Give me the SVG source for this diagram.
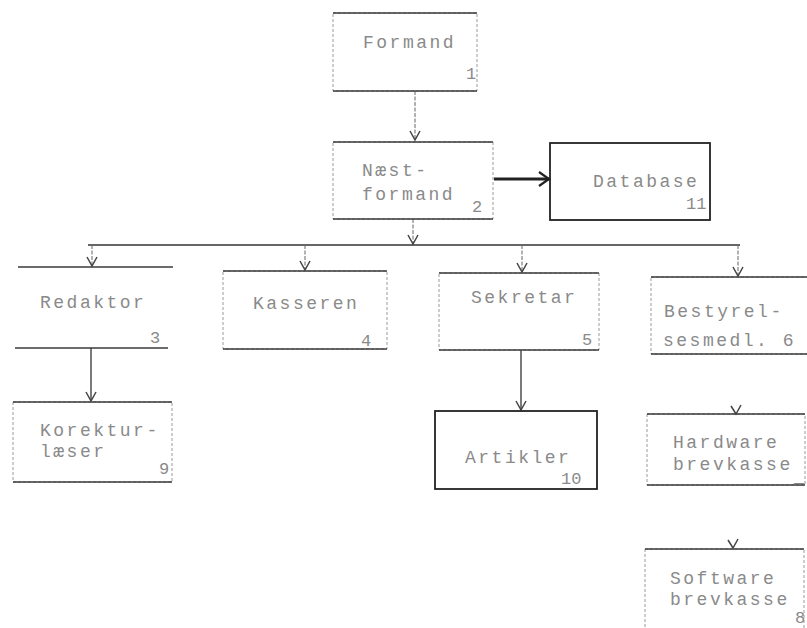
<svg xmlns="http://www.w3.org/2000/svg" width="807" height="628" viewBox="0 0 807 628">
<defs>
<style>
.bg{fill:#ffffff}
.side{fill:none;stroke:#9a9a9a;stroke-width:1;stroke-dasharray:3 2}
.edge{fill:none;stroke:#3a3a3a;stroke-width:1.3}
.edgeb{fill:none;stroke:#222;stroke-width:1.8}
.t{font-family:"Liberation Mono","DejaVu Sans Mono",monospace;font-size:18px;letter-spacing:2.5px;fill:#8a8a8a}
.n{font-family:"Liberation Mono","DejaVu Sans Mono",monospace;font-size:17px;fill:#8a8a8a}
.c{fill:none;stroke:#666;stroke-width:1;stroke-dasharray:4 1.5}
.cs{fill:none;stroke:#333;stroke-width:1.3}
.thick{fill:none;stroke:#222;stroke-width:3}
.v{fill:none;stroke:#444;stroke-width:1.5}
</style>
<marker id="ah" markerWidth="14" markerHeight="14" refX="0" refY="0" viewBox="-12 -7 14 14" orient="auto" markerUnits="userSpaceOnUse">
<path d="M-9,-5 L0,0 L-9,5" class="v"/>
</marker>
<marker id="ahb" markerWidth="16" markerHeight="18" refX="0" refY="0" viewBox="-13 -9 15 18" orient="auto" markerUnits="userSpaceOnUse">
<path d="M-10,-7 L0,0 L-10,7" fill="none" stroke="#222" stroke-width="2.2"/>
</marker>
</defs>
<rect class="bg" x="0" y="0" width="807" height="628"/>

<g id="connectors">
<line class="c" x1="415" y1="91" x2="415" y2="140" marker-end="url(#ah)"/>
<line class="thick" x1="494" y1="179" x2="549" y2="179" marker-end="url(#ahb)"/>
<line class="c" x1="413" y1="219" x2="413" y2="244" marker-end="url(#ah)"/>
<line class="cs" x1="88" y1="245" x2="740" y2="245"/>
<line class="c" x1="92" y1="245" x2="92" y2="266" marker-end="url(#ah)"/>
<line class="c" x1="305" y1="245" x2="305" y2="270" marker-end="url(#ah)"/>
<line class="c" x1="522" y1="245" x2="522" y2="272" marker-end="url(#ah)"/>
<line class="c" x1="738" y1="245" x2="738" y2="276" marker-end="url(#ah)"/>
<line class="cs" x1="91" y1="348" x2="91" y2="401" marker-end="url(#ah)"/>
<line class="cs" x1="521" y1="350" x2="521" y2="410" marker-end="url(#ah)"/>
<path class="v" d="M731,406 L736,414 L741,405"/>
<path class="v" d="M728,540 L733,548 L738,539"/>
</g>

<g id="node1">
<rect class="side" x="333" y="13" width="144" height="78"/>
<line class="edge" x1="333" y1="13" x2="477" y2="13"/>
<line class="edge" x1="333" y1="91" x2="477" y2="91"/>
<text class="t" x="363" y="48">Formand</text>
<text class="n" x="466" y="79">1</text>
</g>

<g id="node2">
<rect class="side" x="333" y="142" width="160" height="77"/>
<line class="edge" x1="333" y1="142" x2="493" y2="142"/>
<line class="edge" x1="333" y1="219" x2="493" y2="219"/>
<text class="t" x="362" y="176">Næst-</text>
<text class="t" x="362" y="200">formand</text>
<text class="n" x="472" y="212">2</text>
</g>

<g id="node11">
<rect class="edgeb" x="550" y="143" width="160" height="77"/>
<text class="t" x="593" y="187">Database</text>
<text class="n" x="686" y="209">11</text>
</g>

<g id="node3">
<line class="edge" x1="18" y1="267" x2="173" y2="267"/>
<line class="edge" x1="15" y1="348" x2="168" y2="348"/>
<text class="t" x="40" y="308">Redaktor</text>
<text class="n" x="150" y="343">3</text>
</g>

<g id="node4">
<rect class="side" x="223" y="271" width="164" height="78"/>
<line class="edge" x1="223" y1="271" x2="387" y2="271"/>
<line class="edge" x1="223" y1="349" x2="387" y2="349"/>
<text class="t" x="253" y="309">Kasseren</text>
<text class="n" x="361" y="346">4</text>
</g>

<g id="node5">
<rect class="side" x="439" y="273" width="160" height="77"/>
<line class="edge" x1="439" y1="273" x2="599" y2="273"/>
<line class="edge" x1="439" y1="350" x2="599" y2="350"/>
<text class="t" x="471" y="303">Sekretar</text>
<text class="n" x="582" y="345">5</text>
</g>

<g id="node6">
<rect class="side" x="651" y="277" width="160" height="77"/>
<line class="edge" x1="651" y1="277" x2="807" y2="277"/>
<line class="edge" x1="651" y1="354" x2="807" y2="354"/>
<text class="t" x="664" y="317">Bestyrel-</text>
<text class="t" x="663" y="346">sesmedl. 6</text>
</g>

<g id="node9">
<rect class="side" x="13" y="402" width="159" height="80"/>
<line class="edge" x1="13" y1="402" x2="172" y2="402"/>
<line class="edge" x1="13" y1="482" x2="172" y2="482"/>
<text class="t" x="40" y="436">Korektur-</text>
<text class="t" x="40" y="457">læser</text>
<text class="n" x="159" y="474">9</text>
</g>

<g id="node10">
<rect class="edgeb" x="435" y="411" width="162" height="78"/>
<text class="t" x="465" y="463">Artikler</text>
<text class="n" x="561" y="484">10</text>
</g>

<g id="node7">
<rect class="side" x="647" y="414" width="158" height="71"/>
<line class="edge" x1="647" y1="414" x2="805" y2="414"/>
<line class="edge" x1="647" y1="485" x2="805" y2="485"/>
<text class="t" x="673" y="448">Hardware</text>
<text class="t" x="673" y="470">brevkasse</text>
<text class="n" x="794" y="482">_</text>
</g>

<g id="node8">
<rect class="side" x="645" y="549" width="159" height="85"/>
<line class="edge" x1="645" y1="549" x2="804" y2="549"/>
<text class="t" x="670" y="584">Software</text>
<text class="t" x="670" y="605">brevkasse</text>
<text class="n" x="795" y="623">8</text>
</g>
</svg>
